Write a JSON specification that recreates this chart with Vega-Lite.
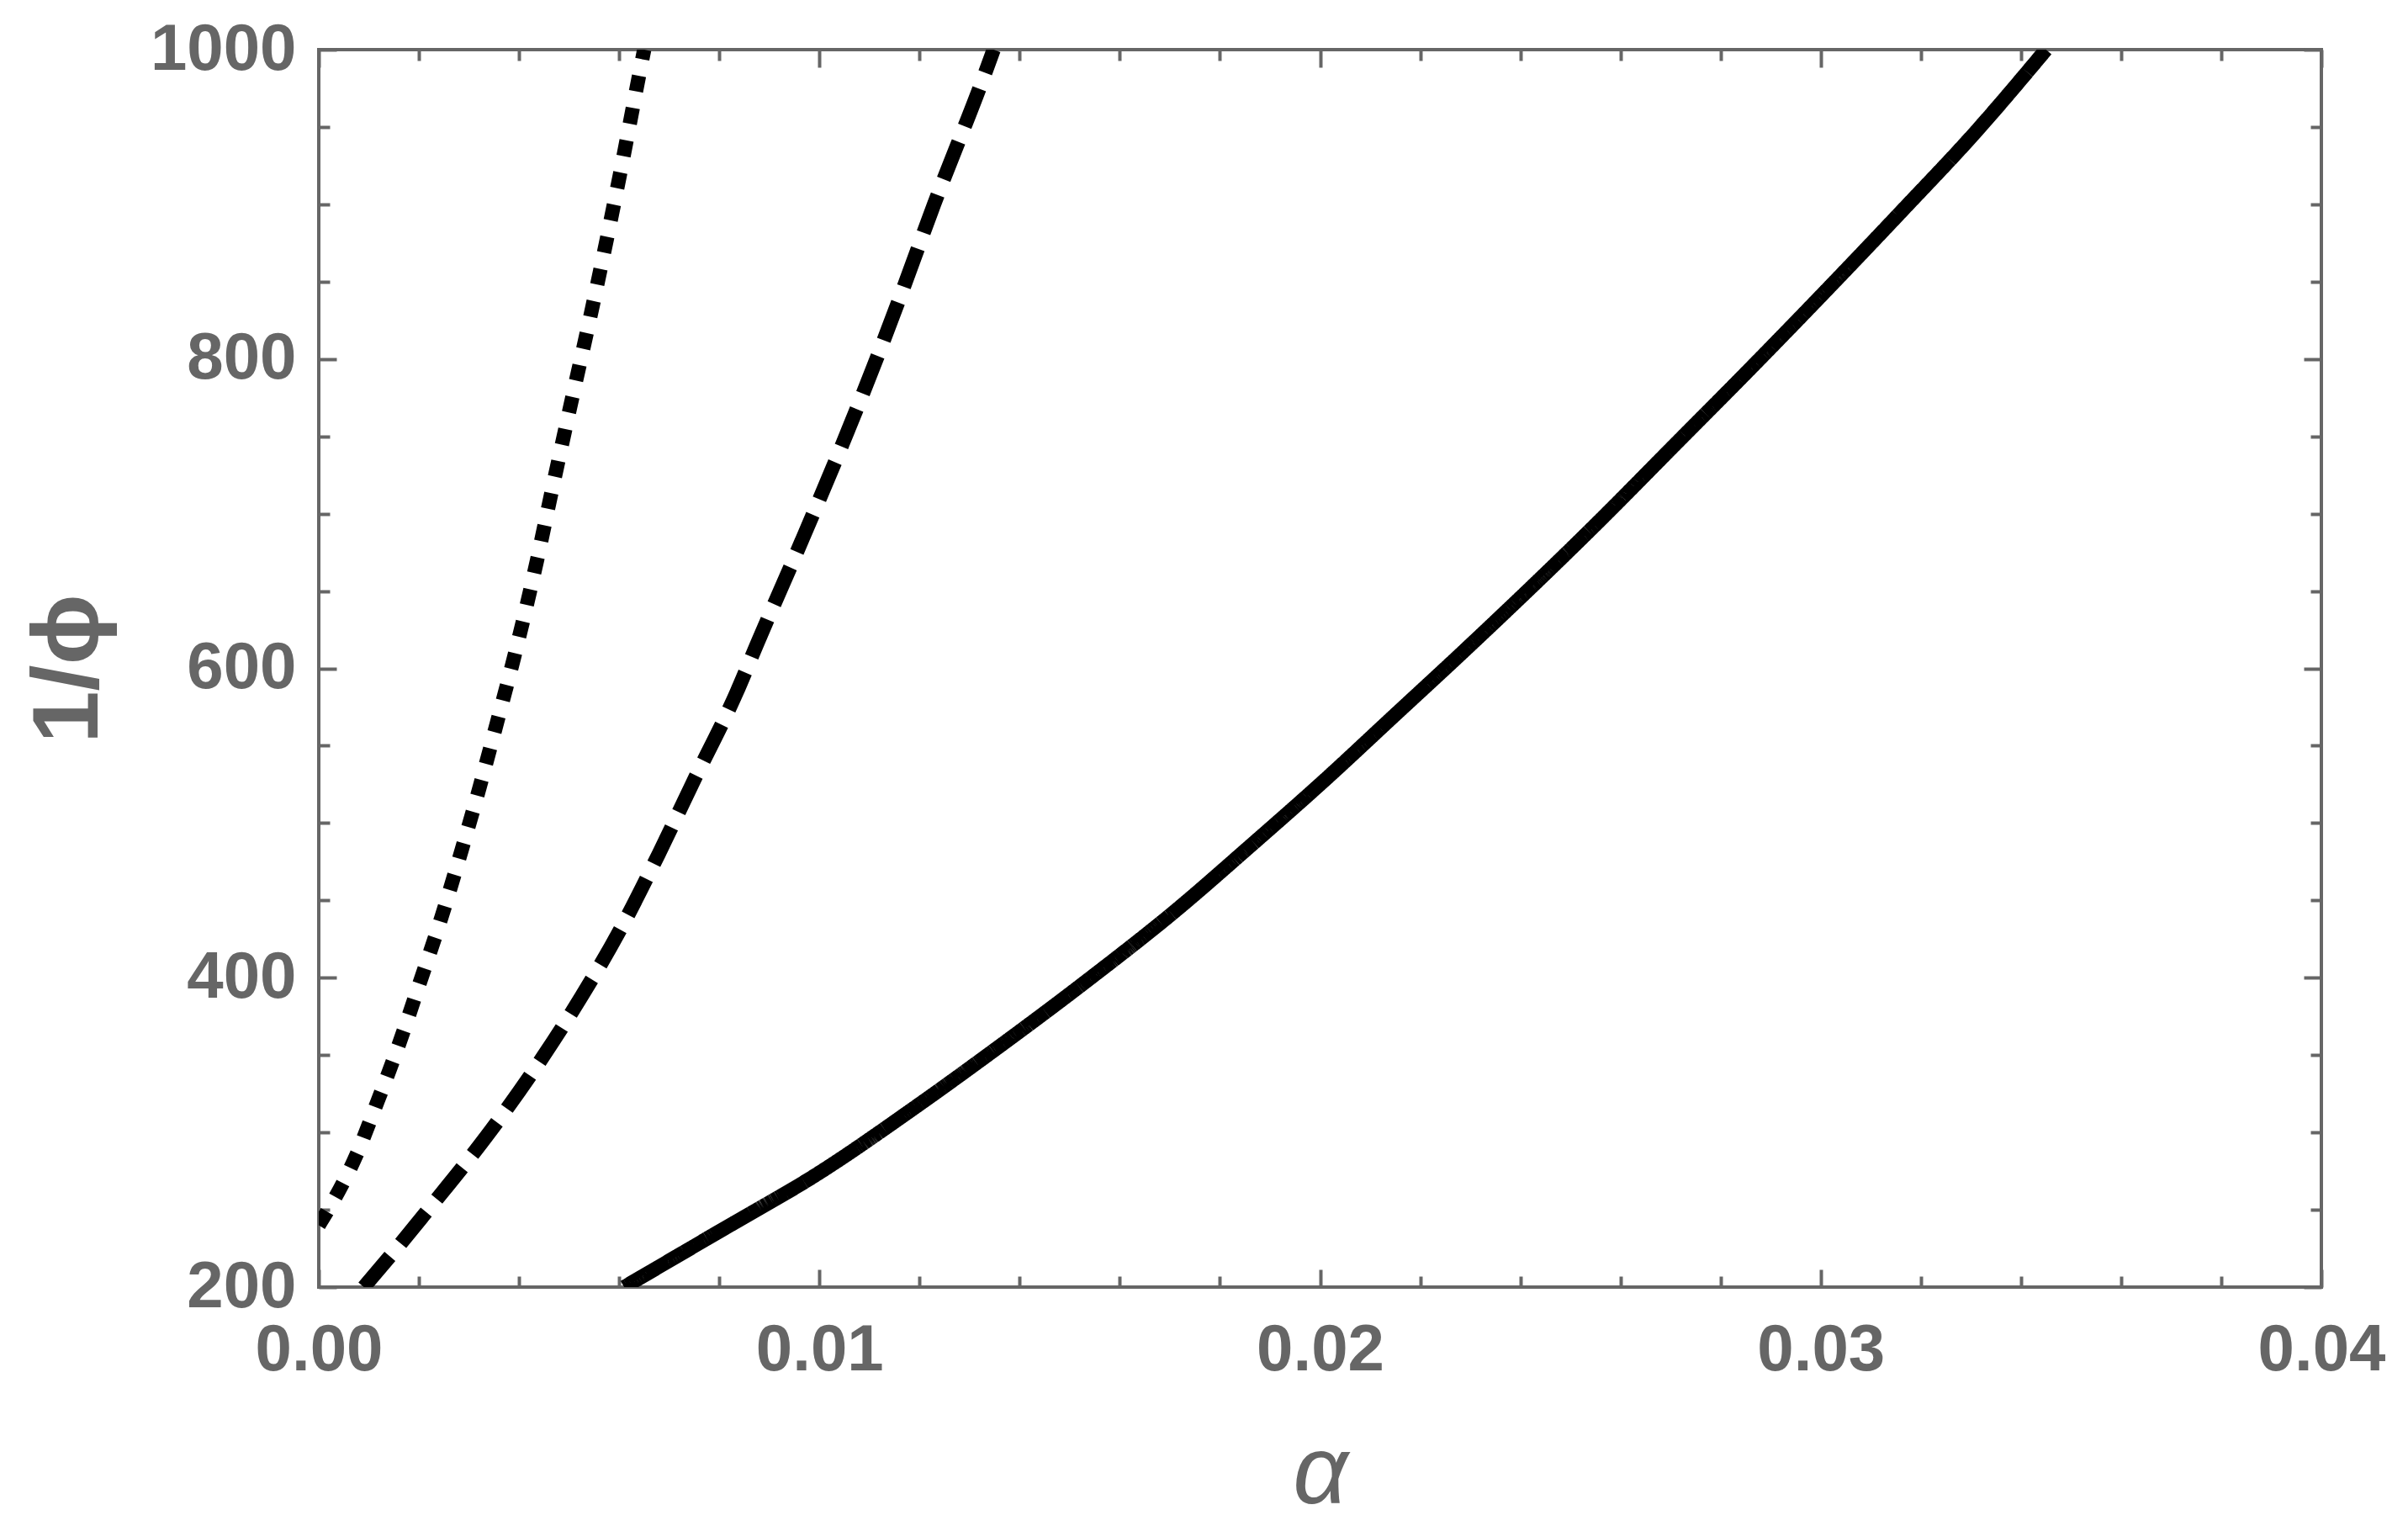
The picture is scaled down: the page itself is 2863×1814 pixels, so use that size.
{
  "$schema": "https://vega.github.io/schema/vega-lite/v6.json",
  "width": 2381,
  "height": 1471,
  "autosize": {"type": "none"},
  "padding": {"left": 379, "top": 59, "right": 103, "bottom": 284},
  "background": "white",
  "config": {
    "view": {"stroke": "#666666", "strokeWidth": 4},
    "axis": {"grid": false, "domain": false, "tickColor": "#666666", "tickWidth": 4, "labelColor": "#666666", "titleColor": "#666666"}
  },
  "data": {
    "values": [
      {"s": "solid", "a": 0.0061, "v": 200},
      {"s": "solid", "a": 0.0080, "v": 236},
      {"s": "solid", "a": 0.0100, "v": 274},
      {"s": "solid", "a": 0.0119, "v": 316},
      {"s": "solid", "a": 0.0134, "v": 351},
      {"s": "solid", "a": 0.0153, "v": 397},
      {"s": "solid", "a": 0.0171, "v": 443},
      {"s": "solid", "a": 0.0186, "v": 485},
      {"s": "solid", "a": 0.0201, "v": 528},
      {"s": "solid", "a": 0.0215, "v": 570},
      {"s": "solid", "a": 0.0229, "v": 612},
      {"s": "solid", "a": 0.0256, "v": 696},
      {"s": "solid", "a": 0.0271, "v": 745},
      {"s": "solid", "a": 0.0286, "v": 794},
      {"s": "solid", "a": 0.0301, "v": 844},
      {"s": "solid", "a": 0.0316, "v": 895},
      {"s": "solid", "a": 0.0331, "v": 947},
      {"s": "solid", "a": 0.0345, "v": 1000},
      {"s": "dashed", "a": 0.0009, "v": 200},
      {"s": "dashed", "a": 0.00158, "v": 226},
      {"s": "dashed", "a": 0.00226, "v": 253},
      {"s": "dashed", "a": 0.00303, "v": 284},
      {"s": "dashed", "a": 0.00375, "v": 315},
      {"s": "dashed", "a": 0.00448, "v": 349},
      {"s": "dashed", "a": 0.00525, "v": 388},
      {"s": "dashed", "a": 0.00602, "v": 431},
      {"s": "dashed", "a": 0.00679, "v": 480},
      {"s": "dashed", "a": 0.00747, "v": 526},
      {"s": "dashed", "a": 0.00834, "v": 584},
      {"s": "dashed", "a": 0.00877, "v": 617},
      {"s": "dashed", "a": 0.00964, "v": 682},
      {"s": "dashed", "a": 0.01046, "v": 745},
      {"s": "dashed", "a": 0.01108, "v": 795},
      {"s": "dashed", "a": 0.01161, "v": 840},
      {"s": "dashed", "a": 0.01229, "v": 900},
      {"s": "dashed", "a": 0.0133, "v": 984},
      {"s": "dashed", "a": 0.01348, "v": 1000},
      {"s": "dotted", "a": 0.0, "v": 240},
      {"s": "dotted", "a": 0.00033, "v": 258},
      {"s": "dotted", "a": 0.00076, "v": 286},
      {"s": "dotted", "a": 0.00115, "v": 318},
      {"s": "dotted", "a": 0.00158, "v": 355},
      {"s": "dotted", "a": 0.00202, "v": 397},
      {"s": "dotted", "a": 0.00245, "v": 439},
      {"s": "dotted", "a": 0.00284, "v": 481},
      {"s": "dotted", "a": 0.00322, "v": 524},
      {"s": "dotted", "a": 0.00356, "v": 565},
      {"s": "dotted", "a": 0.0039, "v": 607},
      {"s": "dotted", "a": 0.00436, "v": 670},
      {"s": "dotted", "a": 0.00465, "v": 714},
      {"s": "dotted", "a": 0.00507, "v": 776},
      {"s": "dotted", "a": 0.00536, "v": 818},
      {"s": "dotted", "a": 0.00575, "v": 877},
      {"s": "dotted", "a": 0.00602, "v": 920},
      {"s": "dotted", "a": 0.00639, "v": 982},
      {"s": "dotted", "a": 0.0065, "v": 1000}
    ]
  },
  "resolve": {"axis": {"x": "independent", "y": "independent"}},
  "layer": [
    {
      "mark": {"type": "line", "strokeWidth": 17, "strokeCap": "butt", "interpolate": "monotone", "clip": true, "color": "black"},
      "encoding": {
        "x": {
          "field": "a", "type": "quantitative",
          "scale": {"domain": [0, 0.04], "nice": false, "zero": false},
          "axis": {
            "orient": "bottom", "values": [0, 0.01, 0.02, 0.03, 0.04], "format": ".2f",
            "ticks": false, "labelPadding": 36, "labelFont": "Liberation Sans", "labelFontWeight": "bold", "labelFontSize": 78,
            "labelFlush": false, "labelOverlap": false,
            "title": "α", "titleFont": "Liberation Sans", "titleFontStyle": "italic", "titleFontWeight": "normal", "titleFontSize": 115, "titlePadding": 51
          }
        },
        "y": {
          "field": "v", "type": "quantitative",
          "scale": {"domain": [200, 1000], "nice": false, "zero": false},
          "axis": {
            "orient": "left", "values": [200, 400, 600, 800, 1000], "format": "d",
            "ticks": false, "labelPadding": 27, "labelFont": "Liberation Sans", "labelFontWeight": "bold", "labelFontSize": 78,
            "labelFlush": false, "labelOverlap": false,
            "title": "1/ϕ", "titleFont": "Liberation Sans", "titleFontWeight": "bold", "titleFontSize": 112, "titlePadding": 40
          }
        },
        "strokeDash": {
          "field": "s", "type": "nominal",
          "scale": {"domain": ["solid", "dashed", "dotted"], "range": [[1, 0], [48, 20], [19, 20]]},
          "legend": null
        }
      }
    },
    {
      "mark": {"type": "line", "strokeOpacity": 0},
      "encoding": {
        "x": {"field": "a", "type": "quantitative", "axis": {"orient": "bottom", "values": [0, 0.01, 0.02, 0.03, 0.04], "labels": false, "tickSize": -21, "title": null}},
        "y": {"field": "v", "type": "quantitative", "axis": {"orient": "left", "values": [200, 400, 600, 800, 1000], "labels": false, "tickSize": -21, "title": null}}
      }
    },
    {
      "mark": {"type": "line", "strokeOpacity": 0},
      "encoding": {
        "x": {"field": "a", "type": "quantitative", "axis": {"orient": "bottom", "values": [0.002, 0.004, 0.006, 0.008, 0.012, 0.014, 0.016, 0.018, 0.022, 0.024, 0.026, 0.028, 0.032, 0.034, 0.036, 0.038], "labels": false, "tickSize": -13, "title": null}},
        "y": {"field": "v", "type": "quantitative", "axis": {"orient": "left", "values": [250, 300, 350, 450, 500, 550, 650, 700, 750, 850, 900, 950], "labels": false, "tickSize": -13, "title": null}}
      }
    },
    {
      "mark": {"type": "line", "strokeOpacity": 0},
      "encoding": {
        "x": {"field": "a", "type": "quantitative", "axis": {"orient": "top", "values": [0, 0.01, 0.02, 0.03, 0.04], "labels": false, "tickSize": -21, "title": null}},
        "y": {"field": "v", "type": "quantitative", "axis": {"orient": "right", "values": [200, 400, 600, 800, 1000], "labels": false, "tickSize": -21, "title": null}}
      }
    },
    {
      "mark": {"type": "line", "strokeOpacity": 0},
      "encoding": {
        "x": {"field": "a", "type": "quantitative", "axis": {"orient": "top", "values": [0.002, 0.004, 0.006, 0.008, 0.012, 0.014, 0.016, 0.018, 0.022, 0.024, 0.026, 0.028, 0.032, 0.034, 0.036, 0.038], "labels": false, "tickSize": -13, "title": null}},
        "y": {"field": "v", "type": "quantitative", "axis": {"orient": "right", "values": [250, 300, 350, 450, 500, 550, 650, 700, 750, 850, 900, 950], "labels": false, "tickSize": -13, "title": null}}
      }
    }
  ]
}
